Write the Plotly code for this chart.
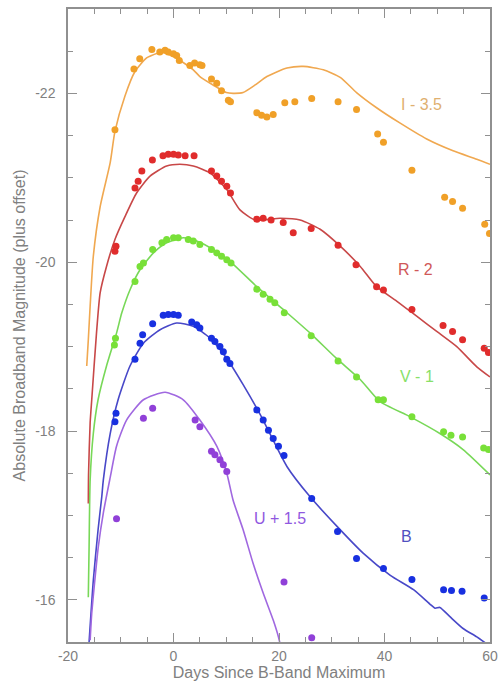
import plotly.graph_objects as go

# ---------------- data ----------------
I_x = [-11.1, -7.5, -6.4, -4.1, -2.6, -1.6, -1.0, 0.0, 0.6, 1.1, 3.1, 4.0, 5.0, 5.4, 7.2, 8.2, 9.1, 10.4, 10.8,
       15.8, 16.7, 17.7, 18.9, 21.1, 23.0, 26.2, 31.2, 34.7, 38.7, 39.8, 45.2, 51.4, 52.9, 54.8, 59.0, 59.9]
I_y = [-21.57, -22.29, -22.41, -22.52, -22.49, -22.51, -22.49, -22.47, -22.45, -22.39, -22.33, -22.36, -22.34, -22.33,
       -22.17, -22.12, -22.03, -21.92, -21.90, -21.77, -21.74, -21.72, -21.75, -21.89, -21.90, -21.94, -21.90, -21.81,
       -21.52, -21.42, -21.09, -20.77, -20.72, -20.64, -20.45, -20.34]
I_fit_x = [-16.45, -16.15, -15.8, -15.2, -13.9, -12.0, -11.1, -9.2, -7.3, -5.1, -2.9, -2.2, 0.5, 3.75, 5.0, 7.5, 10.0,
           11.3, 13.2, 15.5, 17.7, 21.5, 24.6, 28.4, 31.6, 34.7, 38.5, 42.9, 48.0, 53.0, 57.5, 60.0]
I_fit_y = [-18.77, -19.08, -19.48, -20.07, -20.66, -21.18, -21.55, -21.97, -22.26, -22.42, -22.48, -22.49, -22.42,
           -22.28, -22.2, -22.1, -22.01, -22.0, -22.01, -22.1, -22.2, -22.3, -22.32, -22.28, -22.19, -22.01, -21.83,
           -21.65, -21.46, -21.32, -21.22, -21.16]

R_x = [-11.1, -10.9, -7.3, -6.7, -6.0, -4.0, -2.0, -1.0, 0.0, 0.9, 2.2, 3.9, 7.2, 8.2, 9.1, 10.1, 10.8, 15.8, 17.0,
       18.5, 20.8, 22.7, 26.1, 31.2, 34.6, 38.5, 39.8, 45.2, 51.1, 52.9, 54.8, 58.9, 59.7]
R_y = [-20.13, -20.19, -20.88, -20.96, -21.08, -21.21, -21.26, -21.28, -21.28, -21.27, -21.26, -21.26, -21.08, -21.02,
       -20.96, -20.90, -20.82, -20.51, -20.52, -20.50, -20.47, -20.35, -20.40, -20.20, -19.97, -19.71, -19.67, -19.44,
       -19.25, -19.18, -19.08, -18.98, -18.93]
R_fit_x = [-16.15, -16.1, -15.8, -15.5, -14.6, -13.9, -12.7, -11.1, -9.2, -7.0, -4.45, -1.3, 1.2, 3.75, 6.9, 10.1,
           12.6, 15.5, 20.2, 24.0, 27.8, 31.6, 35.4, 38.5, 42.3, 46.1, 49.9, 53.7, 57.5, 60.0]
R_fit_y = [-17.14, -17.5, -18.1, -18.37, -19.16, -19.64, -19.95, -20.27, -20.54, -20.82, -21.02, -21.14, -21.16, -21.14,
           -21.06, -20.86, -20.62, -20.5, -20.52, -20.5, -20.39, -20.19, -19.95, -19.71, -19.54, -19.36, -19.18, -19.0,
           -18.76, -18.64]

V_x = [-11.2, -11.0, -7.3, -6.35, -5.7, -3.95, -2.2, -1.3, 0.0, 0.9, 2.8, 3.75, 5.0, 7.2, 8.2, 9.1, 10.1, 10.9,
       15.8, 17.0, 18.3, 19.2, 21.0, 26.1, 31.2, 34.7, 38.8, 39.8, 45.2, 51.2, 52.6, 54.8, 58.8, 59.7]
V_y = [-19.02, -19.10, -19.77, -19.95, -19.99, -20.15, -20.23, -20.27, -20.29, -20.29, -20.27, -20.25, -20.21, -20.15,
       -20.11, -20.07, -20.03, -19.99, -19.68, -19.62, -19.56, -19.52, -19.40, -19.13, -18.83, -18.64, -18.37, -18.37,
       -18.17, -17.99, -17.95, -17.93, -17.80, -17.78]
V_fit_x = [-16.15, -16.0, -15.8, -15.2, -14.3, -12.7, -10.8, -9.8, -8.2, -6.35, -3.8, -1.3, 1.85, 4.4, 7.5, 10.7,
           15.8, 20.8, 25.9, 30.9, 35.4, 39.1, 44.8, 50.5, 54.9, 60.0]
V_fit_y = [-16.03, -16.63, -17.42, -17.97, -18.37, -18.77, -19.16, -19.40, -19.68, -19.91, -20.11, -20.23, -20.29,
           -20.25, -20.15, -20.01, -19.71, -19.44, -19.16, -18.86, -18.61, -18.35, -18.17, -17.97, -17.78, -17.48]

B_x = [-11.1, -10.9, -7.3, -6.35, -5.85, -3.95, -1.95, -1.0, 0.0, 0.9, 3.45, 4.4, 5.0, 7.2, 7.85, 8.8, 9.45, 10.1,
       10.7, 15.8, 17.0, 18.0, 18.9, 19.9, 20.95, 26.2, 31.1, 34.7, 39.8, 45.2, 51.2, 52.7, 54.7, 58.9]
B_y = [-18.11, -18.21, -18.85, -19.04, -19.14, -19.27, -19.37, -19.38, -19.38, -19.37, -19.29, -19.26, -19.22, -19.10,
       -19.06, -19.00, -18.94, -18.85, -18.80, -18.25, -18.13, -18.01, -17.91, -17.82, -17.71, -17.20, -16.81, -16.49,
       -16.37, -16.24, -16.12, -16.11, -16.10, -16.02]
B_fit_x = [-16.0, -15.2, -14.3, -13.6, -13.3, -12.0, -10.5, -8.25, -5.7, -2.55, 0.6, 3.75, 6.9, 10.1, 13.2, 16.4,
           21.5, 25.9, 31.0, 36.0, 41.1, 45.5, 48.6, 49.6, 50.5, 52.4, 54.9, 57.5, 60.0]
B_fit_y = [-15.5, -16.23, -16.83, -17.22, -17.42, -17.97, -18.37, -18.77, -19.04, -19.2, -19.28, -19.24, -19.10,
           -18.86, -18.55, -18.2, -17.58, -17.22, -16.87, -16.55, -16.29, -16.12, -15.95, -15.90, -15.91, -15.80,
           -15.66, -15.56, -15.45]

U_x = [-10.8, -5.7, -3.95, 4.1, 5.0, 7.2, 7.85, 8.8, 9.45, 10.1, 20.95, 26.2]
U_y = [-16.96, -18.15, -18.27, -18.13, -18.05, -17.76, -17.72, -17.66, -17.60, -17.52, -16.21, -15.55]
U_fit_x = [-15.8, -15.5, -14.9, -14.25, -13.3, -12.0, -10.8, -8.9, -5.7, -1.6, 1.85, 5.0, 8.2, 10.1, 11.3, 13.2,
           15.1, 17.0, 18.9, 19.9, 20.3]
U_fit_y = [-15.52, -15.84, -16.24, -16.63, -17.03, -17.45, -17.82, -18.13, -18.37, -18.46, -18.37, -18.13, -17.82,
           -17.5, -17.18, -16.83, -16.43, -16.08, -15.76, -15.56, -15.45]

band_labels = ["I - 3.5", "R - 2", "V - 1", "B", "U + 1.5"]
label_x = [47.0, 45.8, 46.1, 44.2, 20.2]
label_y = [-21.87, -19.91, -18.65, -16.75, -16.96]

x_tickvals = [-20, 0, 20, 40, 60]
x_ticktext = ["-20", "0", "20", "40", "60"]
y_tickvals = [-22, -20, -18, -16]
y_ticktext = ["-22", "-20", "-18", "-16"]

# ---------------- style ----------------
marker_colors = ["#f0a028", "#e02c2c", "#78e038", "#1830e0", "#9040d8"]
line_colors = ["#f0a850", "#c84848", "#78d858", "#4848c8", "#a068e0"]
label_colors = ["#e0b070", "#d05858", "#88e068", "#5050c0", "#9058e0"]

FONT = "Liberation Sans, Arial, Helvetica, sans-serif"
GRAY = "#808080"

bands = [
    (I_x, I_y, I_fit_x, I_fit_y),
    (R_x, R_y, R_fit_x, R_fit_y),
    (V_x, V_y, V_fit_x, V_fit_y),
    (B_x, B_y, B_fit_x, B_fit_y),
    (U_x, U_y, U_fit_x, U_fit_y),
]

fig = go.Figure()
for i, (px_, py_, fx, fy) in enumerate(bands):
    fig.add_trace(go.Scatter(x=fx, y=fy, mode="lines",
                             line=dict(color=line_colors[i], width=1.6, shape="spline", smoothing=0.6),
                             showlegend=False, hoverinfo="skip"))
    fig.add_trace(go.Scatter(x=px_, y=py_, mode="markers",
                             marker=dict(color=marker_colors[i], size=7, line=dict(width=0)),
                             showlegend=False, cliponaxis=True))

for i, t in enumerate(band_labels):
    fig.add_annotation(x=label_x[i], y=label_y[i], text=t, showarrow=False,
                       font=dict(family=FONT, size=16, color=label_colors[i]))

axis_common = dict(
    showline=True, linecolor="#909090", linewidth=1.5, mirror="ticks",
    ticks="inside", ticklen=9, tickwidth=1.2, tickcolor="#909090",
    showgrid=False, zeroline=False,
    tickfont=dict(family=FONT, size=14, color=GRAY),
    title_font=dict(family=FONT, size=16, color=GRAY),
)

fig.update_xaxes(range=[-20, 60], tickvals=x_tickvals, ticktext=x_ticktext,
                 minor=dict(dtick=5, tick0=0, ticks="inside", ticklen=5, tickcolor="#909090", tickwidth=1),
                 title=dict(text="Days Since B-Band Maximum", standoff=3), **axis_common)
fig.update_yaxes(range=[-15.5, -23], tickvals=y_tickvals, ticktext=y_ticktext,
                 minor=dict(dtick=0.5, tick0=0, ticks="inside", ticklen=5, tickcolor="#909090", tickwidth=1),
                 ticklabelstandoff=8,
                 title=dict(text="Absolute Broadband Magnitude (plus offset)", standoff=6), **axis_common)

fig.update_layout(
    width=498, height=687,
    margin=dict(l=68, r=8, t=9, b=45, autoexpand=False),
    plot_bgcolor="white", paper_bgcolor="white",
    font=dict(family=FONT, color=GRAY),
)

fig.write_html("out.html", config={"displayModeBar": False},
               post_script="document.body.style.margin='0px';")
